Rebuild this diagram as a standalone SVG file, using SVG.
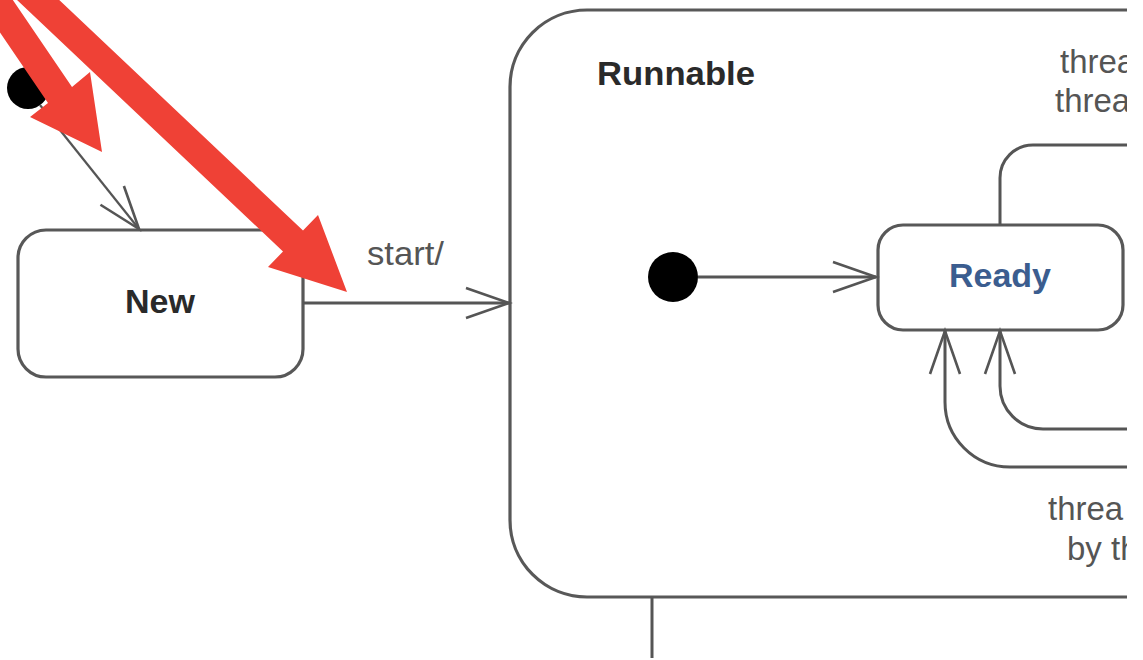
<svg xmlns="http://www.w3.org/2000/svg" width="1143" height="660" viewBox="0 0 1143 660">
  <style>
    .box { fill: #fff; stroke: #585858; stroke-width: 3.2; }
    .conn { fill: none; stroke: #555; stroke-width: 3; }
    .lbl { font-family: "Liberation Sans", Arial, sans-serif; font-size: 33px; fill: #555; }
    .title { font-family: "Liberation Sans", Arial, sans-serif; font-size: 34px; font-weight: bold; fill: #2a2a2a; }
    .red { fill: #ef4136; }
  </style>
  <defs>
    <marker id="open" markerUnits="userSpaceOnUse" viewBox="-50 -20 55 40" markerWidth="55" markerHeight="40" refX="0" refY="0" orient="auto" overflow="visible">
      <path d="M -43 -15 L 0 0 L -43 15" fill="none" stroke="#555" stroke-width="2.6"/>
    </marker>
    <clipPath id="clip"><rect x="0" y="0" width="1127" height="660"/></clipPath>
  </defs>
  <rect width="1143" height="660" fill="#fff"/>
  <g clip-path="url(#clip)">
    <g id="runnable">
      <rect class="box" x="510" y="10" width="760" height="587" rx="77" ry="77"/>
      <text class="title" x="597" y="85" textLength="158" lengthAdjust="spacingAndGlyphs">Runnable</text>
    </g>
    <g id="initial-top">
      <circle cx="28" cy="88" r="21" fill="#000"/>
    </g>
    <g id="initial-runnable">
      <circle cx="673" cy="277" r="25" fill="#000"/>
    </g>
    <g id="new">
      <rect class="box" x="18" y="230" width="285" height="147" rx="28" ry="28"/>
      <text class="title" x="160" y="313" text-anchor="middle">New</text>
    </g>
    <g id="ready">
      <rect class="box" x="878" y="225" width="245" height="105" rx="25" ry="25"/>
      <text class="title" x="1000" y="287" text-anchor="middle" style="fill:#3b5d8f">Ready</text>
    </g>
    <g id="connectors">
      <path class="conn" d="M 40 105 L 139 229" marker-end="url(#open)" style="stroke-width:2.2"/>
      <path class="conn" d="M 303 303 L 509 303" marker-end="url(#open)"/>
      <text class="lbl" x="367" y="265" textLength="77" lengthAdjust="spacingAndGlyphs">start/</text>
      <path class="conn" d="M 698 277 L 876 277" marker-end="url(#open)"/>
      <path class="conn" d="M 1000 225 V 178 A 33 33 0 0 1 1033 145 H 1140"/>
      <text class="lbl" x="1060" y="73">threa</text>
      <text class="lbl" x="1055" y="112">threa</text>
      <path class="conn" d="M 1140 467 H 1010 A 65 65 0 0 1 945 402 V 331" marker-end="url(#open)"/>
      <path class="conn" d="M 1140 429 H 1043 A 43 43 0 0 1 1000 386 V 331" marker-end="url(#open)"/>
      <text class="lbl" x="1048" y="520">threa</text>
      <text class="lbl" x="1067" y="560">by th</text>
      <path class="conn" d="M 652 597 V 658"/>
    </g>
  </g>
  <g id="red-arrows">
    <polygon class="red" points="-13,-38 72,87 90,72 102,152 30,117 48,103 -37,-22"/>
    <polygon class="red" points="27,-30.5 303,230.5 318,215 347,292 268,267 283,251.5 7,-9.5"/>
  </g>
</svg>
